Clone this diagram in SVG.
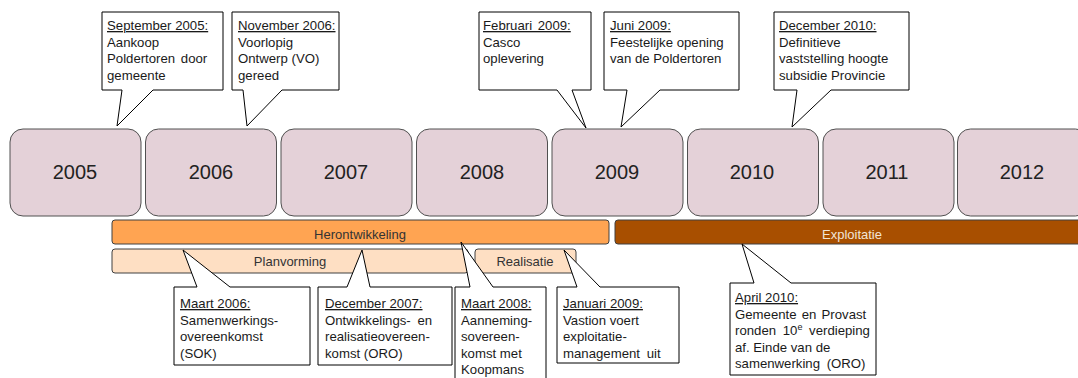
<svg xmlns="http://www.w3.org/2000/svg" width="1078" height="378" viewBox="0 0 1078 378">
<style>
.yr{fill:#E4D1D8;stroke:#505050;stroke-width:1}
.yt{font-family:"Liberation Sans",Arial,sans-serif;font-size:20px;fill:#222;text-anchor:middle}
.bar{stroke:#404040;stroke-width:1}
.bt{font-family:"Liberation Sans",Arial,sans-serif;font-size:13px;fill:#333;text-anchor:middle}
.co{fill:#fff;stroke:#000;stroke-width:1}
.ct{font-family:"Liberation Sans",Arial,sans-serif;font-size:13.2px;fill:#1a1a1a}
.u{text-decoration:underline}
</style>
<rect width="1078" height="378" fill="#fff"/>
<g id="years">
<g id="y2005"><rect class="yr" x="10" y="129" width="131" height="87" rx="13"/><text class="yt" x="75" y="179">2005</text></g>
<g id="y2006"><rect class="yr" x="145.5" y="129" width="131" height="87" rx="13"/><text class="yt" x="211" y="179">2006</text></g>
<g id="y2007"><rect class="yr" x="281" y="129" width="131" height="87" rx="13"/><text class="yt" x="346" y="179">2007</text></g>
<g id="y2008"><rect class="yr" x="416.5" y="129" width="131" height="87" rx="13"/><text class="yt" x="482" y="179">2008</text></g>
<g id="y2009"><rect class="yr" x="552" y="129" width="131" height="87" rx="13"/><text class="yt" x="617" y="179">2009</text></g>
<g id="y2010"><rect class="yr" x="687.5" y="129" width="131" height="87" rx="13"/><text class="yt" x="752" y="179">2010</text></g>
<g id="y2011"><rect class="yr" x="823" y="129" width="131" height="87" rx="13"/><text class="yt" x="887" y="179">2011</text></g>
<g id="y2012"><rect class="yr" x="957.5" y="129" width="131" height="87" rx="13"/><text class="yt" x="1022" y="179">2012</text></g>
</g>
<g id="bars">
<g id="herontwikkeling"><rect class="bar" x="112" y="220" width="497" height="24" rx="3" fill="#FFA452"/><text class="bt" x="360" y="239">Herontwikkeling</text></g>
<g id="exploitatie"><rect class="bar" x="615" y="220" width="475" height="24" rx="3" fill="#A84F00"/><text class="bt" x="852" y="239" style="fill:#F3E4D6">Exploitatie</text></g>
<g id="planvorming"><rect class="bar" x="112" y="249" width="356" height="24" rx="3" fill="#FEDFC3"/><text class="bt" x="290" y="266">Planvorming</text></g>
<g id="realisatie"><rect class="bar" x="475" y="249" width="101" height="24" rx="3" fill="#FEDFC3"/><text class="bt" x="525" y="266">Realisatie</text></g>
</g>
<g id="connectors"></g>
<g id="callouts">
<g id="c-sep2005">
<polygon class="co" points="102,12 223,12 223,90 153,90 117,126 122,90 102,90"/>
<text class="ct" x="107" y="30"><tspan class="u">September 2005:</tspan><tspan x="107" dy="16.5">Aankoop</tspan><tspan x="107" dy="16.5" word-spacing="2">Poldertoren door</tspan><tspan x="107" dy="16.5">gemeente</tspan></text>
</g>
<g id="c-nov2006">
<polygon class="co" points="232,12 339,12 339,90 282,90 247,126 243,90 232,90"/>
<text class="ct" x="238" y="30"><tspan class="u">November 2006:</tspan><tspan x="238" dy="16.5">Voorlopig</tspan><tspan x="238" dy="16.5">Ontwerp (VO)</tspan><tspan x="238" dy="16.5">gereed</tspan></text>
</g>
<g id="c-feb2009">
<polygon class="co" points="479,12 591,12 591,90 572,90 586,128 557,90 479,90"/>
<text class="ct" x="483" y="30"><tspan class="u" word-spacing="2">Februari 2009:</tspan><tspan x="483" dy="16.5">Casco</tspan><tspan x="483" dy="16.5">oplevering</tspan></text>
</g>
<g id="c-jun2009">
<polygon class="co" points="604,12 739,12 739,90 660,90 621,127 627,90 604,90"/>
<text class="ct" x="610" y="30"><tspan class="u">Juni 2009:</tspan><tspan x="610" dy="16.5">Feestelijke opening</tspan><tspan x="610" dy="16.5">van de Poldertoren</tspan></text>
</g>
<g id="c-dec2010">
<polygon class="co" points="774,12 909,12 909,90 831,90 792,127 797,90 774,90"/>
<text class="ct" x="779" y="30"><tspan class="u">December 2010:</tspan><tspan x="779" dy="16.5">Definitieve</tspan><tspan x="779" dy="16.5">vaststelling hoogte</tspan><tspan x="779" dy="16.5">subsidie Provincie</tspan></text>
</g>
<g id="c-mrt2006">
<polygon class="co" points="174,287 197,287 183,250 230,287 310,287 310,365 174,365"/>
<text class="ct" x="180" y="308"><tspan class="u">Maart 2006:</tspan><tspan x="180" dy="16.6">Samenwerkings-</tspan><tspan x="180" dy="16.6">overeenkomst</tspan><tspan x="180" dy="16.6">(SOK)</tspan></text>
</g>
<g id="c-dec2007">
<polygon class="co" points="318,287 347,287 362,250 370,287 452,287 452,365 318,365"/>
<text class="ct" x="325" y="308"><tspan class="u">December 2007:</tspan><tspan x="325" dy="16.6" word-spacing="3">Ontwikkelings- en</tspan><tspan x="325" dy="16.6">realisatieovereen-</tspan><tspan x="325" dy="16.6">komst (ORO)</tspan></text>
</g>
<g id="c-mrt2008">
<polygon class="co" points="455,287 470,287 461,242 493,287 546,287 546,390 455,390"/>
<text class="ct" x="461" y="308"><tspan class="u">Maart 2008:</tspan><tspan x="461" dy="16.6">Aanneming-</tspan><tspan x="461" dy="16.6">sovereen-</tspan><tspan x="461" dy="16.6">komst met</tspan><tspan x="461" dy="16.6">Koopmans</tspan></text>
</g>
<g id="c-jan2009">
<polygon class="co" points="557,287 577,287 564,250 600,287 679,287 679,363 557,363"/>
<text class="ct" x="563" y="308"><tspan class="u">Januari 2009:</tspan><tspan x="563" dy="16.6">Vastion voert</tspan><tspan x="563" dy="16.6">exploitatie-</tspan><tspan x="563" dy="16.6" word-spacing="3">management uit</tspan></text>
</g>
<g id="c-apr2010">
<polygon class="co" points="730,283 754,283 742,244 791,283 876,283 876,375 730,375"/>
<text class="ct" x="735" y="302"><tspan class="u">April 2010:</tspan><tspan x="735" dy="16.5" word-spacing="1.5">Gemeente en Provast</tspan><tspan x="735" dy="16.5" word-spacing="3">ronden 10<tspan font-size="9" dy="-5">e</tspan><tspan dy="5"> verdieping</tspan></tspan><tspan x="735" dy="16.5">af. Einde van de</tspan><tspan x="735" dy="16.5" word-spacing="3">samenwerking (ORO)</tspan></text>
</g>
</g>
</svg>
